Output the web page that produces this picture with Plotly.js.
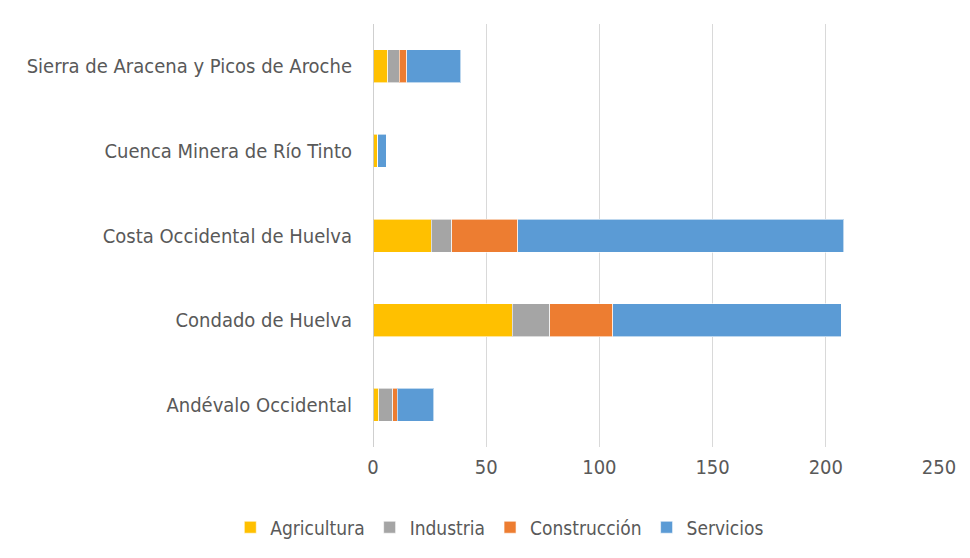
<!DOCTYPE html>
<html>
<head>
<meta charset="utf-8">
<script src="https://cdn.plot.ly/plotly-3.0.1.min.js"></script>
<style>html,body{margin:0;padding:0;background:#fff;}#chart{width:970px;height:558px;}</style>
</head>
<body>
<div id="chart"></div>
<script>
const categories = ["Andévalo Occidental", "Condado de Huelva", "Costa Occidental de Huelva", "Cuenca Minera de Río Tinto", "Sierra de Aracena y Picos de Aroche"];
const agricultura = [2.5, 61.6, 25.8, 2.2, 6.6];
const industria = [6.3, 16.4, 9.0, 0, 5.0];
const construccion = [1.8, 28.0, 29.1, 0, 3.4];
const servicios = [16.2, 100.9, 144.1, 3.7, 23.7];
const seriesNames = ["Agricultura", "Industria", "Construcción", "Servicios"];
const colors = ["#FFC000", "#A5A5A5", "#ED7D31", "#5B9BD5"];
const xTicks = [0, 50, 100, 150, 200, 250];

const fontFam = '"DejaVu Sans Condensed", "Liberation Sans Narrow", "Arial Narrow", sans-serif';
const vals = [agricultura, industria, construccion, servicios];
const traces = vals.map((v, i) => ({
  type: 'bar', orientation: 'h', name: seriesNames[i],
  y: categories, x: v, width: 0.39,
  marker: {color: colors[i], line: {color: 'rgba(255,255,255,0.6)', width: 1}},
  hoverinfo: 'x+name'
}));

const layout = {
  width: 970, height: 558,
  barmode: 'stack',
  margin: {l: 373, r: 31, t: 24, b: 108},
  paper_bgcolor: '#fff', plot_bgcolor: '#fff',
  font: {family: fontFam, size: 20, color: '#595959'},
  xaxis: {range: [0, 250], tickvals: xTicks, ticktext: xTicks.map(String),
          showgrid: true, gridcolor: '#D9D9D9', gridwidth: 1, zeroline: false,
          showline: false, ticks: '', ticklabelstandoff: 6, tickfont: {size: 20, color: '#595959'}},
  yaxis: {type: 'category', showgrid: false, zeroline: false, showline: false,
          ticks: '', ticklen: 0, ticklabelstandoff: 20, automargin: false, tickfont: {size: 20, color: '#595959'}},
  shapes: [{type: 'line', xref: 'x', yref: 'paper', x0: 0, x1: 0, y0: 0, y1: 1,
            line: {color: '#BFBFBF', width: 1.5}}],
  legend: {orientation: 'h', x: 0.224, xanchor: 'center', y: -0.19, yanchor: 'middle',
           itemwidth: 30, font: {size: 19, color: '#595959'}, itemclick: false, traceorder: 'normal'},
  showlegend: true
};

Plotly.newPlot('chart', traces, layout, {displayModeBar: false, staticPlot: true});
</script>
</body>
</html>
